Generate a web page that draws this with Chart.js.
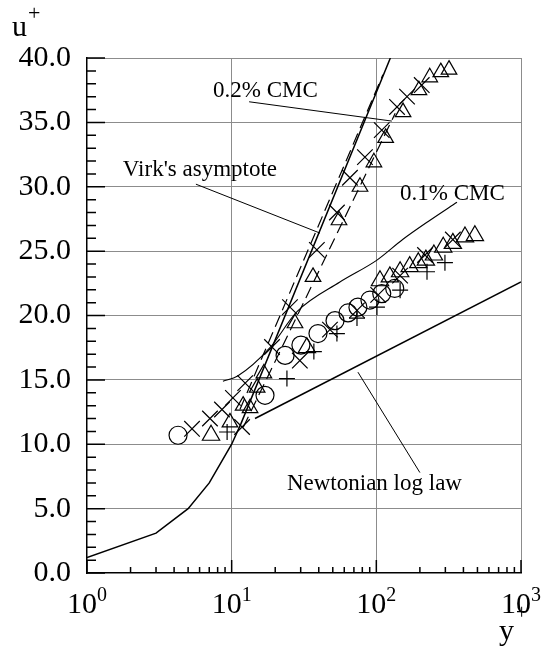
<!DOCTYPE html>
<html>
<head>
<meta charset="utf-8">
<script src="https://cdn.jsdelivr.net/npm/chart.js@4.4.1/dist/chart.umd.min.js"></script>
<style>
  html, body { margin: 0; padding: 0; background: #fff; }
</style>
</head>
<body>
<canvas id="chart" width="547" height="650"></canvas>
<script>
// Velocity profiles u+ vs y+ (log x): wall laws plus CMC solution data.

// viscous sublayer u+ = y+ running into Virk's asymptote
const sublayerY = [1, 3, 5, 7, 10, 11.6, 125];
const sublayerU = [1.2, 3.1, 5.0, 7.0, 10.0, 11.6, 40.0];

// Newtonian log law
const logLawY = [14.5, 1000];
const logLawU = [12.0, 22.6];

// 0.1% CMC profile curve
const cmc01Y = [8.7, 11, 18.4, 28.3, 56, 101, 152, 235, 361];
const cmc01U = [14.9, 15.3, 17.5, 20.3, 22.6, 24.3, 25.9, 27.4, 28.8];

// long-dash fits for the 0.2% CMC runs
const dashAY = [11.4, 111];
const dashAU = [12.7, 38.7];
const dashBY = [12, 135];
const dashBU = [11.3, 35.7];

// measured points
const circleY = [4.26, 17.0, 23.4, 30.1, 39.5, 51.8, 63.7, 74.6, 90.3, 109, 134];
const circleU = [10.7, 13.8, 16.9, 17.7, 18.6, 19.6, 20.2, 20.65, 21.2, 21.7, 22.1];

const plusY = [9.3, 24.1, 37.0, 53.4, 73.5, 101, 146, 224, 298];
const plusU = [10.95, 15.1, 17.2, 18.6, 19.8, 20.65, 21.97, 23.4, 24.1];

const crossHiY = [5.32, 7.08, 8.57, 10.2, 12.4, 19.0, 25.3, 38.8, 53.4, 65.7, 83.4, 109, 139, 163, 206];
const crossHiU = [11.2, 12.0, 12.7, 13.6, 14.75, 17.55, 20.65, 25.1, 28.0, 30.7, 32.3, 34.4, 36.2, 37.0, 37.9];

const crossLoY = [11.8, 29.6, 47.8, 73.5, 103, 146, 217, 338];
const crossLoU = [11.34, 16.5, 18.9, 20.4, 21.6, 23.1, 24.7, 25.9];

const triHiY = [9.73, 12.0, 13.4, 15.0, 16.7, 27.4, 36.5, 55.2, 77.1, 96.2, 116, 153, 197, 234, 279, 318];
const triHiU = [11.7, 13.0, 12.8, 14.4, 15.5, 19.4, 23.0, 27.4, 30.0, 31.9, 33.8, 35.8, 37.5, 38.5, 38.9, 39.1];

const triLoY = [7.2, 33.1, 106, 124, 146, 170, 195, 220, 250, 290, 338, 410, 480];
const triLoU = [10.7, 17.5, 22.7, 23.0, 23.4, 23.8, 24.1, 24.3, 24.7, 25.3, 25.6, 26.1, 26.2];

// leader lines from labels to curves
const leadCmc02Y = [13.2, 128];
const leadCmc02U = [36.6, 35.1];
const leadVirkY = [5.66, 40.8];
const leadVirkU = [30.2, 26.4];
const leadLogY = [74.6, 200];
const leadLogU = [15.6, 7.8];

const yTickValues = [0, 5, 10, 15, 20, 25, 30, 35, 40];
const decades = [1, 10, 100, 1000];

const SERIF = "'Liberation Serif', 'DejaVu Serif', serif";
const GRID = "#8c8c8c";

const notes = [
  { text: "0.2% CMC", x: 7.43, y: 36.96 },
  { text: "Virk's asymptote", x: 1.77, y: 30.8 },
  { text: "0.1% CMC", x: 146, y: 28.96 },
  { text: "Newtonian log law", x: 24.1, y: 6.44 },
];

const pts = (xs, ys) => xs.map((x, i) => ({ x, y: ys[i] }));

function curve(xs, ys, extra) {
  return Object.assign({
    data: pts(xs, ys),
    showLine: true,
    pointRadius: 0,
    borderColor: "#000",
    borderWidth: 1.5,
    fill: false,
  }, extra || {});
}

function marks(xs, ys, style, r) {
  return {
    data: pts(xs, ys),
    showLine: false,
    pointStyle: style,
    pointRadius: r,
    borderColor: "#000",
    backgroundColor: "rgba(0,0,0,0)",
    pointBorderWidth: 1.2,
  };
}

const datasets = [
  curve(sublayerY, sublayerU),
  curve(logLawY, logLawU),
  curve(cmc01Y, cmc01U, { borderWidth: 1.1, cubicInterpolationMode: "monotone" }),
  curve(dashAY, dashAU, { borderWidth: 1.2, borderDash: [12, 6] }),
  curve(dashBY, dashBU, { borderWidth: 1.2, borderDash: [12, 6] }),
  curve(leadCmc02Y, leadCmc02U, { borderWidth: 1 }),
  curve(leadVirkY, leadVirkU, { borderWidth: 1 }),
  curve(leadLogY, leadLogU, { borderWidth: 1 }),
  marks(circleY, circleU, "circle", 9),
  marks(plusY, plusU, "cross", 8),
  marks(crossHiY, crossHiU, "crossRot", 11),
  marks(crossLoY, crossLoU, "crossRot", 11),
  marks(triHiY, triHiU, "triangle", 9),
  marks(triLoY, triLoU, "triangle", 10),
];

// inside tick marks, superscripted decade labels, axis titles and curve notes
const decor = {
  id: "decor",
  afterDraw(chart) {
    const { ctx, chartArea: a, scales: { x, y } } = chart;
    ctx.save();
    ctx.strokeStyle = "#000";
    ctx.lineWidth = 1.5;
    ctx.beginPath();
    for (let v = 0; v <= 40; v++) {
      const py = y.getPixelForValue(v);
      const len = v % 5 === 0 ? 18 : 9;
      ctx.moveTo(a.left, py);
      ctx.lineTo(a.left + len, py);
    }
    for (const d of decades) {
      for (let m = 1; m <= 9; m++) {
        const v = d * m;
        if (v > 1000) break;
        const px = x.getPixelForValue(v);
        const len = m === 1 ? 13 : 6;
        ctx.moveTo(px, a.bottom);
        ctx.lineTo(px, a.bottom - len);
      }
    }
    ctx.stroke();

    ctx.fillStyle = "#000";
    ctx.textBaseline = "alphabetic";
    ctx.textAlign = "left";
    decades.forEach((d, e) => {
      const px = x.getPixelForValue(d);
      ctx.font = `30px ${SERIF}`;
      const w1 = ctx.measureText("10").width;
      ctx.font = `20px ${SERIF}`;
      const w2 = ctx.measureText(String(e)).width;
      const left = px - (w1 + w2) / 2;
      ctx.font = `30px ${SERIF}`;
      ctx.fillText("10", left, a.bottom + 40);
      ctx.font = `20px ${SERIF}`;
      ctx.fillText(String(e), left + w1, a.bottom + 28);
    });

    ctx.font = `30px ${SERIF}`;
    ctx.fillText("u", 12, 36);
    ctx.font = `22px ${SERIF}`;
    ctx.fillText("+", 28, 20);
    ctx.font = `30px ${SERIF}`;
    ctx.fillText("y", 499, 640);
    ctx.font = `20px ${SERIF}`;
    ctx.fillText("+", 516, 619);

    ctx.font = `23px ${SERIF}`;
    for (const n of notes) {
      ctx.fillText(n.text, x.getPixelForValue(n.x), y.getPixelForValue(n.y));
    }
    ctx.restore();
  },
};

new Chart(document.getElementById("chart"), {
  type: "scatter",
  data: { datasets },
  options: {
    responsive: false,
    animation: false,
    events: [],
    layout: { padding: { top: 58, right: 26, left: 0, bottom: 0 } },
    plugins: { legend: { display: false }, tooltip: { enabled: false } },
    scales: {
      x: {
        type: "logarithmic",
        min: 1,
        max: 1000,
        afterBuildTicks: (s) => { s.ticks = decades.map((v) => ({ value: v })); },
        afterFit: (s) => { s.height = 77; },
        ticks: { display: false },
        grid: {
          drawTicks: false,
          lineWidth: 1,
          color: (c) => (c.tick && c.tick.value === 1 ? "rgba(0,0,0,0)" : GRID),
        },
        border: { color: "#000", width: 1.5 },
      },
      y: {
        min: 0,
        max: 40,
        afterBuildTicks: (s) => { s.ticks = yTickValues.map((v) => ({ value: v })); },
        afterFit: (s) => { s.width = 87; },
        ticks: {
          color: "#000",
          padding: 16,
          font: { family: SERIF, size: 30 },
          callback: (v) => Number(v).toFixed(1),
        },
        grid: {
          drawTicks: false,
          lineWidth: 1,
          color: (c) => (c.tick && c.tick.value === 0 ? "rgba(0,0,0,0)" : GRID),
        },
        border: { color: "#000", width: 1.5 },
      },
    },
  },
  plugins: [decor],
});
</script>
</body>
</html>
